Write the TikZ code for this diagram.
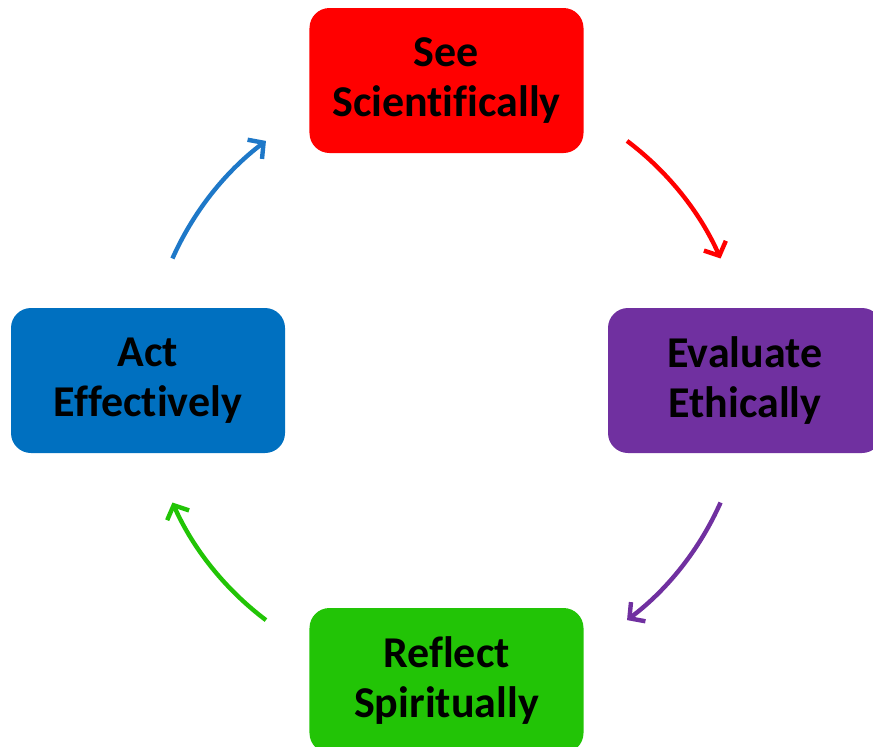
\documentclass[tikz,border=0pt]{standalone}
\usepackage{fontspec}
\setmainfont{Carlito}[Ligatures=NoCommon]
\usetikzlibrary{arrows.meta, positioning}

\definecolor{seeRed}{RGB}{255,0,0}
\definecolor{evalPurple}{RGB}{112,48,160}
\definecolor{reflectGreen}{RGB}{34,196,6}
\definecolor{actBlue}{RGB}{0,112,192}
\definecolor{arrowBlue}{RGB}{30,120,200}

\begin{document}
\begin{tikzpicture} [
            stage/.style = { rectangle, rounded corners=10pt, draw=none,
                             minimum width=137pt, minimum height=72.5pt,
                             text width=130pt, align=center, outer sep=0pt,
                             font=\fontsize{22}{25}\selectfont\bfseries },
            cycle/.style = { line width=2.2pt,
                             -{Straight Barb[length=5.5pt, width=12pt]} },
          ]
          \useasboundingbox (0,0) rectangle (436.5pt,-373pt);
          \clip (0,0) rectangle (436.5pt,-373pt);
          \matrix (ring) [column sep=12.25pt, row sep=77.5pt, inner sep=0pt, outer sep=0pt,
                          anchor=north west] at (5.5pt,-4pt) {
            & \node (see) [stage, fill=seeRed] {See\\Scientifically}; & \\
            \node (act) [stage, fill=actBlue] {Act\\Effectively}; & & \node (evaluate) [stage, fill=evalPurple] {Evaluate\\Ethically}; \\
            & \node (reflect) [stage, fill=reflectGreen] {Reflect\\Spiritually}; & \\
          };

          \coordinate (hub) at (see |- act);

          \draw [cycle, seeRed] ([shift={(53:150pt)}]hub) arc [start angle=53, end angle=24, radius=150pt];
          \draw [cycle, evalPurple] ([shift={(-24:150pt)}]hub) arc [start angle=-24, end angle=-53, radius=150pt];
          \draw [cycle, reflectGreen] ([shift={(-127:150pt)}]hub) arc [start angle=-127, end angle=-156, radius=150pt];
          \draw [cycle, arrowBlue] ([shift={(156:150pt)}]hub) arc [start angle=156, end angle=127, radius=150pt];
        \end{tikzpicture}
\end{document}
